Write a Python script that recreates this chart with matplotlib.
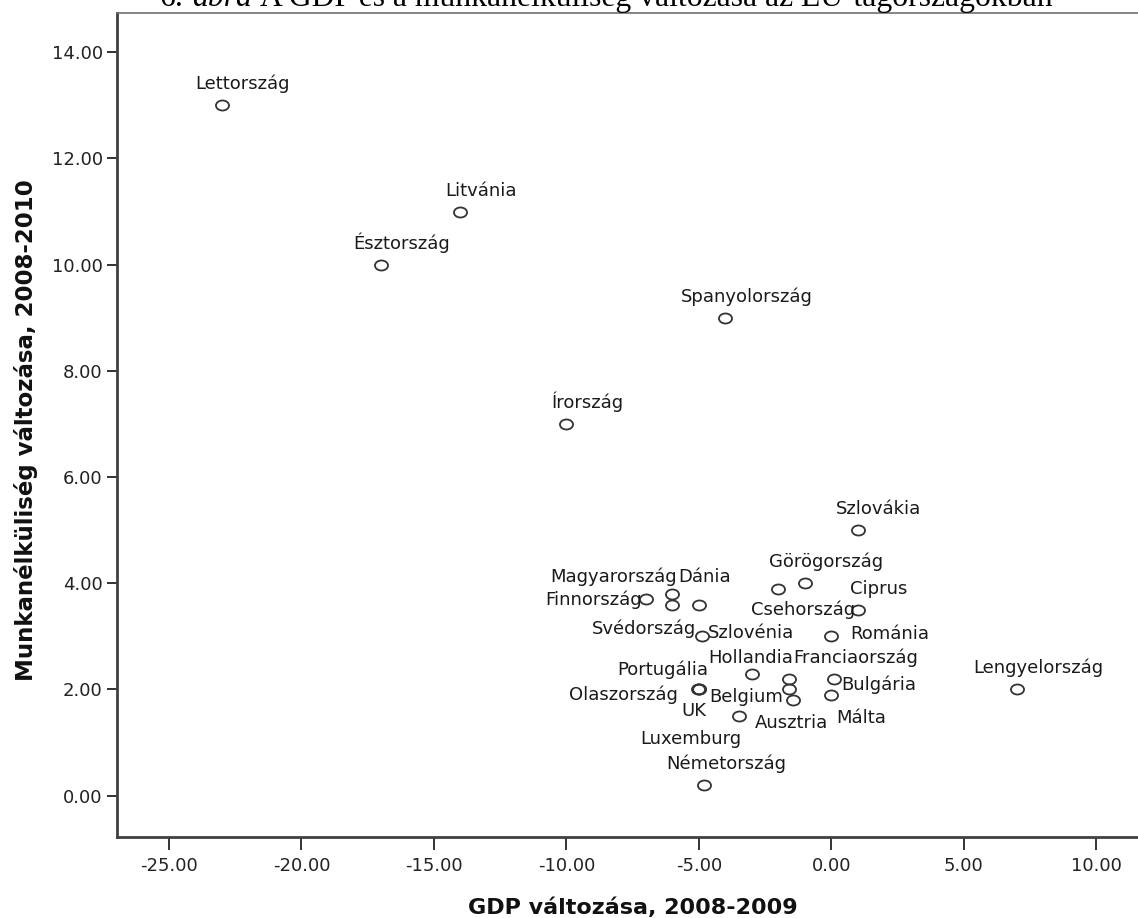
import matplotlib
matplotlib.use("Agg")
import matplotlib.pyplot as plt
from matplotlib.path import Path

# ---------------- data ----------------
countries = ["Lettország", "Litvánia", "Észtország", "Spanyolország", "Írország",
             "Szlovákia", "Görögország", "Csehország", "Ciprus", "Románia",
             "Bulgária", "Málta", "Lengyelország", "Finnország", "Magyarország",
             "Dánia", "Svédország", "Szlovénia", "Hollandia", "Franciaország",
             "Portugália", "Olaszország", "UK", "Belgium", "Ausztria",
             "Luxemburg", "Németország"]
gdp_change = [-23, -14, -17, -4, -10,
              1, -1, -2, 1, 0,
              0.1, 0, 7, -7, -6,
              -5, -6, -4.9, -3, -1.6,
              -5, -5, -5.05, -1.6, -1.45,
              -3.5, -4.8]
unemployment_change = [13, 11, 10, 9, 7,
                       5, 4.0, 3.9, 3.5, 3.0,
                       2.2, 1.9, 2.0, 3.7, 3.8,
                       3.6, 3.6, 3.0, 2.3, 2.2,
                       2.0, 2.0, 2.0, 2.0, 1.8,
                       1.5, 0.2]
x_ticks = [-25, -20, -15, -10, -5, 0, 5, 10]
y_ticks = [0, 2, 4, 6, 8, 10, 12, 14]

title_parts = [("6.", "normal"), ("ábra", "italic"),
               ("A GDP és a munkanélküliség változása az EU-tagországokban", "normal")]
x_label = "GDP változása, 2008-2009"
y_label = "Munkanélküliség változása, 2008-2010"

# label placement (pixels: dx right, dy below point baseline; alignment)
DEFAULT = (21, -16, "center")
label_pos = {
    "Csehország": (76.5, 26.4, "right"),
    "Románia": (18.5, 3, "left"),
    "Bulgária": (7.5, 11, "left"),
    "Málta": (5.2, 28, "left"),
    "Finnország": (-4.3, 5.8, "right"),
    "Magyarország": (4.2, -11.6, "right"),
    "Dánia": (-20.7, -22.2, "left"),
    "Svédország": (24.2, 29.5, "right"),
    "Szlovénia": (6.6, 1.9, "left"),
    "Hollandia": (41.3, -10.3, "right"),
    "Franciaország": (4.2, -15.6, "left"),
    "Portugália": (9.3, -14.5, "right"),
    "Olaszország": (-20.7, 10.5, "right"),
    "UK": (-3.7, 26.5, "center"),
    "Belgium": (-5.8, 12.2, "right"),
    "Ausztria": (-38.1, 28.2, "left"),
    "Luxemburg": (3, 28, "right"),
    "Németország": (22.4, -16, "center"),
}

# ---------------- figure ----------------
W, H = 1138, 918
fig = plt.figure(figsize=(W / 100, H / 100), dpi=100)
ax = fig.add_axes([117 / W, (H - 837) / H, (W - 117) / W, (837 - 13) / H])
ax.set_xlim(-26.96, 11.57)
ax.set_ylim(-0.778, 14.74)

# slightly wide elliptical marker (as in the reference)
circ = Path.unit_circle()
ell = Path(circ.vertices * [1.3, 1.0], circ.codes)
ax.plot(gdp_change, unemployment_change, linestyle="none", marker=ell,
        markersize=9.4, markerfacecolor="none", markeredgecolor="#333333",
        markeredgewidth=1.3, zorder=3)

for name, xv, yv in zip(countries, gdp_change, unemployment_change):
    dx, dy, ha = label_pos.get(name, DEFAULT)
    ax.annotate(name, (xv, yv), xytext=(dx, -dy), textcoords="offset pixels",
                ha=ha, va="baseline", fontsize=13, family="DejaVu Sans",
                color="#1a1a1a", zorder=4)

ax.set_xticks(x_ticks)
ax.set_xticklabels([f"{v:.2f}" for v in x_ticks])
ax.set_yticks(y_ticks)
ax.set_yticklabels([f"{v:.2f}" for v in y_ticks])
ax.tick_params(axis="x", direction="out", length=9.4, width=1.4, pad=5,
               labelsize=13, color="#333333", labelcolor="#222222")
ax.tick_params(axis="y", direction="out", length=7.2, width=1.4, pad=3,
               labelsize=13, color="#333333", labelcolor="#222222")

ax.spines["right"].set_visible(False)
ax.spines["top"].set_linewidth(1.2)
ax.spines["top"].set_color("#707070")
for s in ("left", "bottom"):
    ax.spines[s].set_linewidth(2.0)
    ax.spines[s].set_color("#404040")

ax.set_xlabel(x_label, fontsize=16, fontweight="bold", color="#111111")
ax.xaxis.set_label_coords((633 - 117) / (W - 117), (837 - 908) / (837 - 13))
ax.xaxis.label.set_va("center")
ax.set_ylabel(y_label, fontsize=16.5, fontweight="bold", color="#111111")
ax.yaxis.set_label_coords((26 - 117) / (W - 117), (837 - 430) / (837 - 13))
ax.yaxis.label.set_va("center")

# ---------------- title (cut off at the top, as in the reference) ----------------
renderer = fig.canvas.get_renderer()


def text_width(s, style, fs):
    t = fig.text(0, 0, s, fontsize=fs, family="Liberation Serif", style=style)
    w = t.get_window_extent(renderer).width
    t.remove()
    return w


def title_width(fs):
    sp = text_width("a a", "normal", fs) - text_width("aa", "normal", fs)
    return sum(text_width(s, st, fs) for s, st in title_parts) + sp * (len(title_parts) - 1), sp


base_fs = 20
tw, _ = title_width(base_fs)
fs = base_fs * 892 / tw
_, sp = title_width(fs)
x = 160
for s, st in title_parts:
    fig.text(x / W, 1 - 6 / H, s, fontsize=fs, family="Liberation Serif",
             style=st, ha="left", va="baseline", color="#000000")
    x += text_width(s, st, fs) + sp

fig.savefig("out.png", dpi=100)
